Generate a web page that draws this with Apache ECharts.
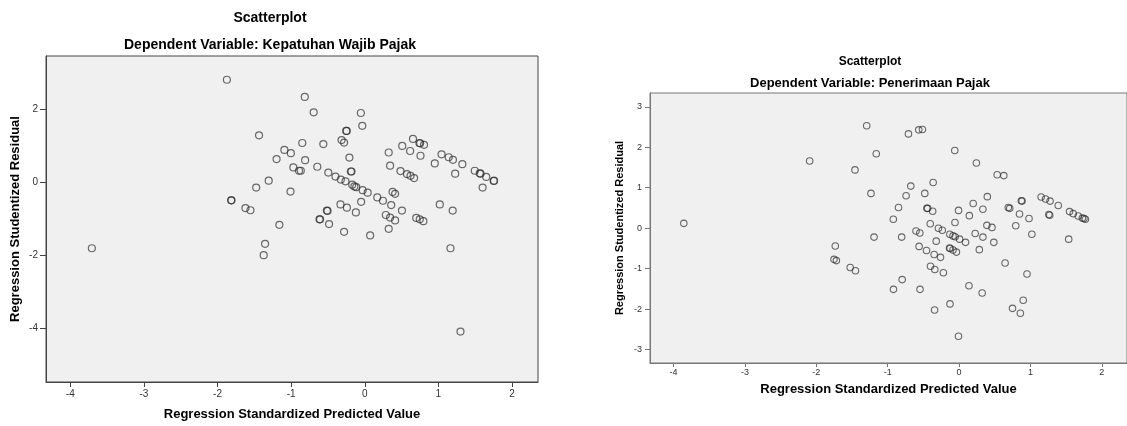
<!DOCTYPE html>
<html>
<head>
<meta charset="utf-8">
<script src="https://cdn.jsdelivr.net/npm/echarts@6/dist/echarts.min.js"></script>
<style>
html,body{margin:0;padding:0;background:#fff;}
#c{width:1127px;height:426px;}
</style>
</head>
<body>
<div id="c"></div>
<script>
// ---- Left chart: Dependent Variable: Kepatuhan Wajib Pajak ----
var leftX = [-1.873,-0.815,-0.694,-0.053,-0.034,-1.436,-0.252,-0.245,-0.315,-0.281,
  -0.849,-0.563,-1.092,-1.004,-1.198,-0.810,-0.209,-0.970,-0.893,-0.869,
  -0.645,-0.495,-0.189,-0.180,-0.398,-0.325,-0.262,-1.305,-1.475,-1.009,
  -1.815,-1.810,-1.621,-1.553,-1.160,-1.354,-1.373,-3.707,-0.170,-0.141,
  -0.116,-0.029,0.039,0.170,0.247,0.378,0.412,0.359,0.505,-0.049,
  -0.330,-0.243,-0.121,-0.515,-0.505,-0.615,-0.607,-0.485,-0.281,0.073,
  0.286,0.344,0.412,0.325,0.699,0.747,0.796,1.019,1.194,1.164,
  1.300,0.325,0.344,0.509,0.655,0.742,0.752,0.805,0.616,0.757,
  0.485,0.573,0.621,0.670,0.951,1.043,1.140,1.198,1.325,1.228,
  1.494,1.562,1.572,1.650,1.756,1.752,1.601];
var leftY = [2.81,2.34,1.92,1.90,1.55,1.29,1.41,1.41,1.16,1.09,
  1.08,1.05,0.89,0.80,0.64,0.61,0.68,0.41,0.32,0.32,
  0.43,0.27,0.30,0.30,0.16,0.08,0.03,0.05,-0.14,-0.25,
  -0.49,-0.49,-0.70,-0.76,-1.16,-1.68,-1.99,-1.80,-0.06,-0.11,
  -0.13,-0.21,-0.28,-0.41,-0.50,-0.26,-0.31,-0.62,-0.77,-0.53,
  -0.60,-0.69,-0.82,-0.77,-0.78,-1.01,-1.01,-1.14,-1.35,-1.45,
  -0.89,-0.96,-1.04,-1.27,-0.97,-1.01,-1.06,-0.60,-0.77,-1.80,
  -4.08,0.82,0.46,1.00,1.19,1.08,1.07,1.03,0.86,0.73,
  0.31,0.23,0.18,0.12,0.52,0.77,0.69,0.62,0.50,0.24,
  0.32,0.25,0.24,0.15,0.05,0.04,-0.14];

// ---- Right chart: Dependent Variable: Penerimaan Pajak ----
var rightX = [-3.856,-2.093,-1.294,-1.160,-1.458,-1.234,-0.709,-0.565,-0.513,-0.060,
  0.243,0.534,0.627,-0.363,-0.676,-0.742,-0.480,-0.451,-0.440,-0.370,
  -0.848,-0.921,-0.404,-0.603,-0.550,-0.289,-0.235,-0.129,-0.085,-0.055,
  0.008,0.091,-0.057,-0.007,0.144,0.198,0.334,0.396,0.390,0.461,
  0.226,0.334,0.487,0.284,-0.804,-1.191,-1.734,-1.752,-1.719,-1.525,
  -1.451,-0.320,-0.560,-0.456,-0.133,-0.125,-0.085,-0.037,-0.349,-0.260,
  -0.400,-0.340,-0.220,-0.797,-0.919,-0.547,-0.343,-0.127,-0.008,0.139,
  0.324,0.645,0.952,0.899,0.749,0.859,0.690,0.710,0.847,0.794,
  0.980,1.020,0.872,0.883,1.150,1.212,1.275,1.390,1.258,1.270,
  1.548,1.600,1.670,1.727,1.750,1.770,1.536];
var rightY = [0.12,1.66,2.53,1.84,1.44,0.86,2.33,2.43,2.44,1.92,
  1.61,1.32,1.30,1.13,1.04,0.80,0.86,0.49,0.49,0.42,
  0.51,0.22,0.11,-0.07,-0.12,0.00,-0.05,-0.15,-0.19,-0.21,
  -0.27,-0.35,0.14,0.44,0.31,0.61,0.47,0.78,0.07,0.02,
  -0.13,-0.22,-0.35,-0.53,-0.22,-0.22,-0.44,-0.77,-0.80,-0.97,
  -1.05,-0.32,-0.45,-0.55,-0.49,-0.50,-0.54,-0.59,-0.65,-0.72,
  -0.94,-1.02,-1.10,-1.27,-1.51,-1.51,-2.02,-1.87,-2.67,-1.42,
  -1.60,-0.86,-1.13,-1.78,-1.98,-2.10,0.51,0.49,0.35,0.06,
  0.24,-0.15,0.68,0.67,0.77,0.72,0.67,0.56,0.34,0.32,
  0.41,0.36,0.30,0.25,0.24,0.22,-0.27];

var xTicks = [-4,-3,-2,-1,0,1,2];
var leftYTicks = [-4,-2,0,2];
var rightYTicks = [-3,-2,-1,0,1,2,3];

var titleMain = 'Scatterplot';
var leftSubtitle = 'Dependent Variable: Kepatuhan Wajib Pajak';
var rightSubtitle = 'Dependent Variable: Penerimaan Pajak';
var xName = 'Regression Standardized Predicted Value';
var yName = 'Regression Studentized Residual';

function pairs(xs, ys){ return xs.map(function(v,i){ return [v, ys[i]]; }); }

var FONT = '"Liberation Sans", Arial, sans-serif';

var chart = echarts.init(document.getElementById('c'), null, {renderer:'canvas'});

function xAxisCfg(gi, min, max, color, labelSize, labelMargin, nameSize, nameGap, tickLen){
  return {
    type:'value', gridIndex: gi, min: min, max: max,
    name: xName, nameLocation:'middle', nameGap: nameGap,
    nameTextStyle:{fontFamily:FONT, fontWeight:'bold', fontSize:nameSize, color:'#000'},
    axisLine:{show:true, onZero:false, lineStyle:{color:color, width:1}},
    axisTick:{show:true, inside:false, length:tickLen, customValues:xTicks, lineStyle:{color:color}},
    axisLabel:{show:true, customValues:xTicks, fontFamily:FONT, fontSize:labelSize, color:'#333', margin:labelMargin},
    splitLine:{show:false}
  };
}
function yAxisCfg(gi, min, max, ticks, color, labelSize, labelMargin, nameSize, nameGap, tickLen){
  return {
    type:'value', gridIndex: gi, min: min, max: max,
    name: yName, nameLocation:'middle', nameGap: nameGap, nameRotate: 90,
    nameTextStyle:{fontFamily:FONT, fontWeight:'bold', fontSize:nameSize, color:'#000'},
    axisLine:{show:true, onZero:false, lineStyle:{color:color, width:1}},
    axisTick:{show:true, inside:false, length:tickLen, customValues:ticks, lineStyle:{color:color}},
    axisLabel:{show:true, customValues:ticks, fontFamily:FONT, fontSize:labelSize, color:'#333', margin:labelMargin},
    splitLine:{show:false}
  };
}

var option = {
  animation:false,
  backgroundColor:'#ffffff',
  grid:[
    {left:46, top:56, width:492, height:330, show:true, backgroundColor:'#f0f0f0', borderColor:'#444', borderWidth:1},
    {left:650, top:93, width:486, height:270, show:true, backgroundColor:'#f0f0f0', borderColor:'#777', borderWidth:1}
  ],
  xAxis:[
    xAxisCfg(0, -4.33, 2.353, '#444', 10, 7, 13, 26, 5),
    xAxisCfg(1, -4.33, 2.353, '#777', 9, 5, 13, 20, 4)
  ],
  yAxis:[
    yAxisCfg(0, -5.46, 3.46, leftYTicks, '#444', 10, 8, 13, 24, 6),
    yAxisCfg(1, -3.33, 3.34, rightYTicks, '#777', 9, 8, 11, 25, 5)
  ],
  graphic:[
    {type:'text', x:270, y:18, style:{text:titleMain, font:'bold 14px ' + FONT, fill:'#000', textAlign:'center', textVerticalAlign:'middle', align:'center', verticalAlign:'middle'}},
    {type:'text', x:270, y:45, style:{text:leftSubtitle, font:'bold 14px ' + FONT, fill:'#000', textAlign:'center', textVerticalAlign:'middle', align:'center', verticalAlign:'middle'}},
    {type:'text', x:870, y:62, style:{text:titleMain, font:'bold 12px ' + FONT, fill:'#000', textAlign:'center', textVerticalAlign:'middle', align:'center', verticalAlign:'middle'}},
    {type:'text', x:870, y:83, style:{text:rightSubtitle, font:'bold 13px ' + FONT, fill:'#000', textAlign:'center', textVerticalAlign:'middle', align:'center', verticalAlign:'middle'}}
  ],
  series:[
    {type:'scatter', xAxisIndex:0, yAxisIndex:0, data:pairs(leftX,leftY), symbol:'circle', symbolSize:7,
     itemStyle:{color:'rgba(0,0,0,0)', borderColor:'rgba(40,40,40,0.85)', borderWidth:1.2}, silent:true},
    {type:'scatter', xAxisIndex:1, yAxisIndex:1, data:pairs(rightX,rightY), symbol:'circle', symbolSize:6.5,
     itemStyle:{color:'rgba(0,0,0,0)', borderColor:'rgba(40,40,40,0.85)', borderWidth:1.1}, silent:true}
  ]
};
chart.setOption(option);
</script>
</body>
</html>
